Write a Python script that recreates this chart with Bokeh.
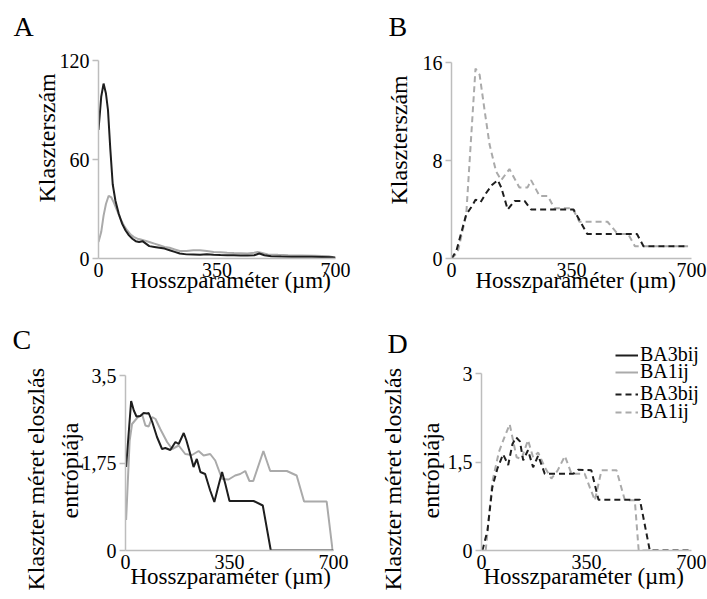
from bokeh.plotting import figure
from bokeh.layouts import row, column
from bokeh.models import Range1d, FixedTicker, Legend, LegendItem, ColumnDataSource, Title
from bokeh.embed import file_html
from bokeh.resources import INLINE

FONT = "Liberation Serif"
BLACK = "#1e1e1e"
GRAY = "#aaaaaa"
AXIS_GRAY = "#bdbdbd"

# --- A: cluster count vs. length parameter (solid lines) ---
a_x_black = [0, 8, 15, 22, 28, 35, 42, 50, 60, 70, 80, 90, 100, 110, 120, 130, 140, 150,
             165, 180, 195, 210, 225, 240, 260, 280, 300, 320, 340, 360, 380, 400, 420,
             440, 460, 475, 490, 510, 540, 570, 600, 630, 660, 690, 700]
a_y_black = [78, 98, 106, 100, 90, 66, 45, 35, 27, 21, 17, 14, 12, 10.5, 10, 10.5, 9, 7.5,
             7, 6.5, 6, 5, 4, 3, 2.5, 2.4, 2.3, 2.6, 2.3, 2.1, 2.0, 1.9, 1.8,
             1.8, 2.0, 3.0, 2.0, 1.4, 1.2, 1.1, 1.0, 1.0, 0.9, 0.8, 0.5]
a_x_gray = [0, 8, 15, 22, 30, 38, 45, 55, 65, 75, 85, 95, 105, 115, 125, 135, 150, 165,
            180, 195, 210, 225, 240, 260, 280, 300, 320, 340, 360, 380, 400, 420, 440,
            460, 470, 480, 500, 530, 560, 600, 640, 680, 700]
a_y_gray = [10, 16, 26, 33, 38, 37, 34, 29, 24, 20, 17, 14.5, 13, 12, 11.5, 11, 10, 9,
            8, 7, 6.5, 5.5, 4.5, 4.5, 5, 5, 4.5, 4, 3.8, 3.5, 3.3, 3.2, 3,
            3.5, 4, 3.5, 2.5, 2.2, 2, 1.8, 1.6, 1.4, 0.5]

# --- B: cluster count (dashed lines) ---
b_x_black = [0, 14, 43, 58, 70, 85, 100, 118, 135, 145, 164, 184, 213, 232, 356, 396, 541, 560, 690]
b_y_black = [0, 0.6, 3.6, 4.2, 4.8, 4.6, 5.3, 6.0, 6.4, 5.8, 4.0, 4.7, 4.7, 4.0, 4.0, 2.0, 2.0, 1.0, 1.0]
b_x_gray = [0, 18, 43, 70, 82, 97, 111, 130, 145, 169, 198, 222, 232, 257, 281, 300, 353, 373,
            455, 485, 515, 535, 690]
b_y_gray = [0, 0.5, 3.6, 15.5, 15.0, 12.0, 9.3, 7.1, 6.4, 7.3, 5.8, 5.8, 6.4, 5.1, 5.1, 4.1, 4.1, 3.0,
            3.0, 2.0, 2.0, 1.0, 1.0]

# --- C: entropy of cluster size distribution (solid lines) ---
c_x_black = [2, 19, 28, 37, 50, 61, 73, 78, 90, 106, 123, 134, 151, 168, 179, 196, 205, 216,
             229, 240, 252, 268, 285, 299, 310, 325, 336, 350, 431, 462, 489, 700]
c_y_black = [1.67, 2.99, 2.8, 2.68, 2.69, 2.75, 2.74, 2.75, 2.57, 2.27, 2.03, 2.05, 2.01, 2.17,
             2.13, 2.35, 2.2, 1.97, 1.67, 1.83, 1.57, 1.53, 1.2, 0.97, 1.23, 1.57, 1.33, 0.99,
             0.99, 0.9, 0.0, 0.0]
c_x_gray = [2, 14, 22, 39, 56, 67, 78, 90, 101, 117, 140, 157, 179, 201, 224, 246, 263, 285,
            302, 325, 347, 369, 386, 403, 417, 430, 464, 487, 543, 576, 601, 677, 697]
c_y_gray = [0.61, 2.2, 2.53, 2.65, 2.72, 2.5, 2.48, 2.67, 2.63, 2.43, 2.17, 2.03, 2.1, 1.93,
            1.91, 1.99, 1.9, 1.93, 1.8, 1.43, 1.42, 1.5, 1.53, 1.59, 1.39, 1.39, 1.99, 1.59,
            1.59, 1.5, 0.98, 0.98, 0.0]

# --- D: entropy of cluster size distribution (dashed lines) ---
d_x_black = [3, 20, 36, 53, 72, 89, 103, 115, 128, 139, 155, 172, 189, 211, 250, 306, 322,
             366, 390, 528, 561, 700]
d_y_black = [0, 0.34, 1.07, 1.39, 1.63, 1.45, 1.8, 1.92, 1.85, 1.53, 1.7, 1.41, 1.61, 1.3,
             1.3, 1.3, 1.37, 1.36, 0.86, 0.86, 0, 0]
d_x_gray = [14, 36, 58, 75, 94, 117, 133, 155, 172, 189, 211, 233, 253, 278, 300, 344, 361,
            378, 400, 450, 478, 511, 524, 700]
d_y_gray = [0, 1.16, 1.67, 1.9, 2.14, 1.58, 1.55, 1.87, 1.58, 1.66, 1.41, 1.22, 1.35, 1.6,
            1.3, 1.3, 1.07, 0.85, 1.36, 1.36, 0.85, 0.85, 0, 0]

x_ticks = [0, 350, 700]
series_names = ["BA3bij", "BA1ij"]
count_label = "Klaszterszám"
entropy_label = ["Klaszter méret eloszlás", "entrópiája"]
x_label = "Hosszparaméter (µm)"


def add_text(p, text, side, offset, standoff, size, vertical_align="bottom"):
    t = Title(text=text, align="left", offset=offset, standoff=standoff,
              vertical_align=vertical_align, text_font=FONT, text_font_size=size,
              text_font_style="normal", text_color="black")
    p.add_layout(t, side)


def panel(letter, width, height, ml, mr, mt, mb, x_max, y_max, yticks, y_top, overrides,
          letter_offset, letter_standoff):
    p = figure(width=width, height=height, x_range=Range1d(0, x_max), y_range=Range1d(0, y_max),
               output_backend="svg", toolbar_location=None,
               min_border_left=ml, min_border_right=mr, min_border_top=mt, min_border_bottom=mb)
    p.grid.visible = False
    p.outline_line_color = None
    p.background_fill_color = "white"
    p.border_fill_color = "white"

    p.title.text = letter
    p.title.text_font = FONT
    p.title.text_font_size = "28px"
    p.title.text_font_style = "normal"
    p.title.text_color = "black"
    p.title.align = "left"
    p.title.offset = letter_offset
    p.title.standoff = letter_standoff

    # plot area is a little larger than the data window; bounds keep the axes at the data limits
    xa, ya = p.xaxis[0], p.yaxis[0]
    xa.ticker = FixedTicker(ticks=x_ticks)
    ya.ticker = FixedTicker(ticks=yticks)
    xa.bounds = (0, 700)
    ya.bounds = (0, y_top)
    ya.major_label_overrides = overrides
    for ax in (xa, ya):
        ax.axis_line_color = AXIS_GRAY
        ax.axis_line_width = 1.5
        ax.major_tick_line_color = AXIS_GRAY
        ax.major_tick_line_width = 1.5
        ax.minor_tick_line_color = None
        ax.major_tick_in = 0
        ax.major_label_text_font = FONT
        ax.major_label_text_font_size = "20px"
        ax.major_label_text_color = "black"
    xa.major_tick_out = 0
    xa.major_label_standoff = 4
    ya.major_tick_out = 6
    ya.major_label_standoff = 3
    return p


H1, H2 = 311, 288
TOP1, BOT1 = 41, 258      # plot area of the upper row
TOP2, BOT2 = 338, 550     # plot area of the lower row (relative to the page)

pa = panel("A", 353, H1, 98, 18, TOP1, H1 - BOT1, 700, 120 * (BOT1 - TOP1) / (BOT1 - 60),
           [0, 60, 120], 120, {}, -85, 0)
add_text(pa, count_label, "left", 56, -6, "24px")
add_text(pa, x_label, "below", 32, -24, "23px", "top")
pa.line(a_x_gray, a_y_gray, line_color=GRAY, line_width=2)
pa.line(a_x_black, a_y_black, line_color=BLACK, line_width=2)

pb = panel("B", 354, H1, 98, 16, TOP1, H1 - BOT1, 700, 16 * (BOT1 - TOP1) / (BOT1 - 62),
           [0, 8, 16], 16, {}, -63, 0)
add_text(pb, count_label, "left", 54, 16, "24px")
add_text(pb, x_label, "below", 24, -24, "23px", "top")
pb.line(b_x_gray, b_y_gray, line_color=GRAY, line_width=2, line_dash="6 4")
pb.line(b_x_black, b_y_black, line_color=BLACK, line_width=2, line_dash="6 4")

mt2 = TOP2 - H1
mb2 = H2 - mt2 - (BOT2 - TOP2)
pc = panel("C", 353, H2, 125, 20, mt2, mb2, 700, 3.5 * (BOT2 - TOP2) / (BOT2 - 375),
           [0, 1.75, 3.5], 3.5, {1.75: "1,75", 3.5: "3,5"}, -113, -32)
add_text(pc, entropy_label[1], "left", 32, -8, "24px")
add_text(pc, entropy_label[0], "left", -40, 20, "24px")
add_text(pc, x_label, "below", 5, -16, "23px", "top")
pc.line(c_x_gray, c_y_gray, line_color=GRAY, line_width=2)
pc.line(c_x_black, c_y_black, line_color=BLACK, line_width=2)

# D reaches the right edge of the page so the legend sits inside its plot area
pd_ = panel("D", 354, H2, 128, 0, mt2, mb2, 700 * 226 / 210, 3 * (BOT2 - TOP2) / (BOT2 - 373),
            [0, 1.5, 3], 3, {1.5: "1,5"}, -94, -40)
add_text(pd_, entropy_label[1], "left", 32, 2, "24px")
add_text(pd_, entropy_label[0], "left", -40, 17, "24px")
add_text(pd_, x_label, "below", 2, -16, "23px", "top")
d_gray = pd_.line(d_x_gray, d_y_gray, line_color=GRAY, line_width=2, line_dash="6 4")
d_black = pd_.line(d_x_black, d_y_black, line_color=BLACK, line_width=2, line_dash="6 4")

# legend keys for the solid series of panels A and C (no points of their own)
nan = float("nan")
key_src = ColumnDataSource(data=dict(x=[nan], y=[nan]))
key_black = pd_.line("x", "y", source=key_src, line_color=BLACK, line_width=2)
key_gray = pd_.line("x", "y", source=key_src, line_color=GRAY, line_width=2)


# one legend per entry, stacked tightly below each other
def legend_entry(label, renderer, bottom):
    lg = Legend(items=[LegendItem(label=label, renderers=[renderer])],
                location=(134, bottom), padding=0, margin=0, spacing=0,
                glyph_width=23, glyph_height=14, label_height=14, label_standoff=2,
                label_text_font=FONT, label_text_font_size="20px", label_text_color="black",
                border_line_color=None, background_fill_alpha=0)
    pd_.add_layout(lg)


legend_entry(series_names[0], key_black, 184)
legend_entry(series_names[1], key_gray, 167)
legend_entry(series_names[0], d_black, 145)
legend_entry(series_names[1], d_gray, 127)

layout = column(row(pa, pb), row(pc, pd_))
open("out.html", "w").write(file_html(layout, INLINE))
